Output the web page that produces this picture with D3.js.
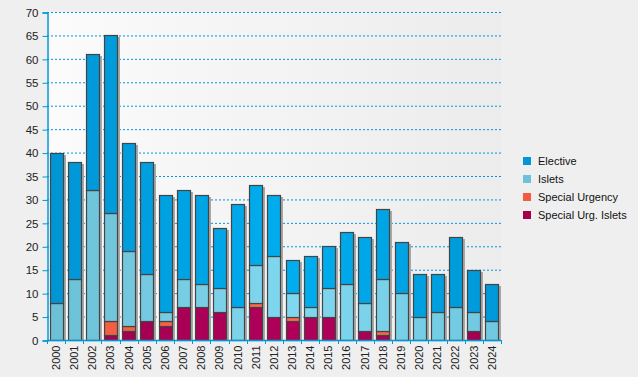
<!DOCTYPE html>
<html>
<head>
<meta charset="utf-8">
<script src="https://cdn.jsdelivr.net/npm/d3@7"></script>
<style>
  body { margin: 0; background: #efefef; }
  svg { display: block; font-family: "Liberation Sans", Arial, sans-serif; }
</style>
</head>
<body>
<svg id="chart"></svg>
<script>
const years = ['2000','2001','2002','2003','2004','2005','2006','2007','2008','2009','2010','2011','2012',
               '2013','2014','2015','2016','2017','2018','2019','2020','2021','2022','2023','2024'];
const specialUrgIslets = [0,0,0,1,2,4,3,7,7,6,0,7,5,4,5,5,0,2,1,0,0,0,0,2,0];
const specialUrgency   = [0,0,0,3,1,0,1,0,0,0,0,1,0,1,0,0,0,0,1,0,0,0,0,0,0];
const islets           = [8,13,32,23,16,10,2,6,5,5,7,8,13,5,2,6,12,6,11,10,5,6,7,4,4];
const elective         = [32,25,29,38,23,24,25,19,19,13,22,17,13,7,11,9,11,14,15,11,9,8,15,9,8];
const seriesNames = ['Special Urg. Islets', 'Special Urgency', 'Islets', 'Elective'];
const yTicks = d3.range(0, 71, 5);

const width = 638, height = 377;
const m = { left: 47, right: 501, top: 12, bottom: 340 };
const font = '"Liberation Sans", Arial, sans-serif';

const svg = d3.select('#chart').attr('width', width).attr('height', height);
const defs = svg.append('defs');

// plot background: light on the left, greyer to the right
const bg = defs.append('linearGradient').attr('id', 'bg')
    .attr('x1', 0).attr('x2', 1).attr('y1', 0).attr('y2', 0);
bg.append('stop').attr('offset', 0).attr('stop-color', '#fbfbfb');
bg.append('stop').attr('offset', 1).attr('stop-color', '#ececec');

// bar lighting across the plot
const shades = {
    'Elective': ['#0095d5', '#00aeef', '#0098d8'],
    'Islets': ['#6cc0d5', '#80d8f0', '#70c8e0'],
    'Special Urgency': ['#f05a40', '#ff6a4c', '#f25c42'],
    'Special Urg. Islets': ['#a0004e', '#b0005a', '#a2004f']
};
const legendColors = {
    'Elective': '#0096d8', 'Islets': '#6cc3d9',
    'Special Urgency': '#f35b42', 'Special Urg. Islets': '#a4004f'
};
seriesNames.forEach((s, i) => {
    const g = defs.append('linearGradient').attr('id', 'g' + i)
        .attr('gradientUnits', 'userSpaceOnUse')
        .attr('x1', m.left).attr('x2', m.right).attr('y1', 0).attr('y2', 0);
    g.append('stop').attr('offset', 0).attr('stop-color', shades[s][0]);
    g.append('stop').attr('offset', 0.55).attr('stop-color', shades[s][1]);
    g.append('stop').attr('offset', 1).attr('stop-color', shades[s][2]);
});

svg.append('rect').attr('width', width).attr('height', height).attr('fill', '#efefef');
svg.append('rect')
    .attr('x', m.left).attr('y', m.top)
    .attr('width', m.right - m.left).attr('height', m.bottom - m.top)
    .attr('fill', 'url(#bg)');

const x = d3.scaleBand().domain(years).range([m.left, m.right]).paddingInner(0.28).paddingOuter(0.14);
const y = d3.scaleLinear().domain([0, 70]).range([m.bottom, m.top]);

// grid
svg.append('g').selectAll('line')
    .data(yTicks.filter(d => d > 0))
    .join('line')
    .attr('x1', m.left).attr('x2', m.right)
    .attr('y1', d => y(d) + 0.5).attr('y2', d => y(d) + 0.5)
    .attr('stroke', '#0096d8').attr('stroke-dasharray', '2,2');

const table = years.map((yr, i) => ({
    year: yr,
    'Special Urg. Islets': specialUrgIslets[i],
    'Special Urgency': specialUrgency[i],
    'Islets': islets[i],
    'Elective': elective[i]
}));
const stacked = d3.stack().keys(seriesNames)(table);
const total = d => d3.sum(seriesNames, k => d[k]);

// shadows
svg.append('g').selectAll('rect')
    .data(table)
    .join('rect')
    .attr('x', d => Math.round(x(d.year)) + 2)
    .attr('y', d => Math.round(y(total(d))) + 2)
    .attr('width', Math.round(x.bandwidth()) + 1)
    .attr('height', d => y(0) - Math.round(y(total(d))) - 1)
    .attr('fill', '#a8a8a8');

stacked.forEach((layer, i) => {
    svg.append('g').selectAll('rect')
        .data(layer.filter(d => d[1] > d[0]))
        .join('rect')
        .attr('x', d => Math.round(x(d.data.year)) + 0.5)
        .attr('y', d => Math.round(y(d[1])) + 0.5)
        .attr('width', Math.round(x.bandwidth()))
        .attr('height', d => Math.round(y(d[0])) - Math.round(y(d[1])))
        .attr('fill', `url(#g${i})`)
        .attr('stroke', '#444')
        .attr('stroke-width', 1.2);
});

// y axis
const yAxis = svg.append('g')
    .attr('transform', `translate(${m.left + 0.5},0.5)`)
    .call(d3.axisLeft(y).tickValues(yTicks).tickSize(5).tickPadding(4));
yAxis.select('.domain').attr('stroke', '#0096d8').attr('stroke-width', 1.5);
yAxis.selectAll('.tick line').attr('stroke', '#0096d8');
yAxis.selectAll('text').attr('fill', '#222').style('font-size', '11.5px').style('font-family', font);

// x axis
const xAxis = svg.append('g')
    .attr('transform', `translate(0,${m.bottom + 0.5})`)
    .call(d3.axisBottom(x).tickSize(0).tickSizeOuter(0));
xAxis.select('.domain').attr('stroke', '#0096d8').attr('stroke-width', 1.5)
    .attr('d', `M${m.left},0H${m.right}`);
xAxis.selectAll('text')
    .attr('transform', 'rotate(-90)')
    .attr('text-anchor', 'end')
    .attr('x', -5).attr('y', 0).attr('dy', '0.35em')
    .attr('fill', '#222').style('font-size', '11px').style('font-family', font);
svg.append('g').selectAll('line')
    .data(d3.range(years.length + 1))
    .join('line')
    .attr('x1', i => Math.round(m.left + i * x.step()) + 0.5)
    .attr('x2', i => Math.round(m.left + i * x.step()) + 0.5)
    .attr('y1', m.bottom).attr('y2', m.bottom + 4)
    .attr('stroke', '#0096d8');

// legend
const legendOrder = ['Elective', 'Islets', 'Special Urgency', 'Special Urg. Islets'];
const legend = svg.append('g').attr('transform', 'translate(523,157)');
legendOrder.forEach((s, i) => {
    const row = legend.append('g').attr('transform', `translate(0,${i * 18})`);
    row.append('rect').attr('width', 8).attr('height', 8).attr('fill', legendColors[s]);
    row.append('text').attr('x', 15).attr('y', 4).attr('dy', '0.35em')
        .style('font-size', '11px').attr('fill', '#111').text(s);
});
</script>
</body>
</html>
